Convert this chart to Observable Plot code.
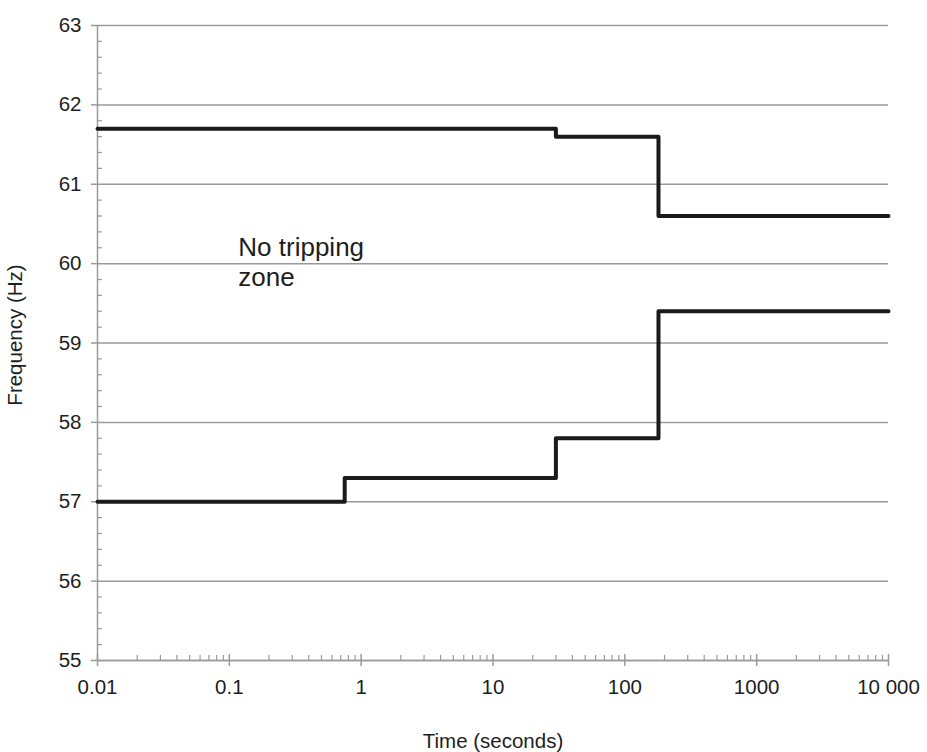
<!DOCTYPE html>
<html>
<head>
<meta charset="utf-8">
<script src="https://cdn.jsdelivr.net/npm/d3@7"></script>
<script src="https://cdn.jsdelivr.net/npm/@observablehq/plot@0.6"></script>
<style>
  html, body { margin: 0; padding: 0; background: #ffffff; }
  #chart { width: 927px; height: 752px; }
</style>
</head>
<body>
<div id="chart"></div>
<script>
// Data
const upperTime = [0.01, 30, 180, 10000];
const upperFreq = [61.7, 61.6, 60.6, 60.6];
const lowerTime = [0.01, 0.75, 30, 180, 10000];
const lowerFreq = [57.0, 57.3, 57.8, 59.4, 59.4];

const xTicks = [0.01, 0.1, 1, 10, 100, 1000, 10000];
const xTickLabels = ["0.01", "0.1", "1", "10", "100", "1000", "10 000"];
const yTicks = [55, 56, 57, 58, 59, 60, 61, 62, 63];
const xMinorMultipliers = [2, 3, 4, 5, 6, 7, 8, 9];
const yMinorStep = 0.2;

const xTitle = "Time (seconds)";
const yTitle = "Frequency (Hz)";
const annotationText = ["No tripping\nzone"];
const annotationX = [0.117];
const annotationY = [60.03];

const upper = upperTime.map((t, i) => ({t, f: upperFreq[i]}));
const lower = lowerTime.map((t, i) => ({t, f: lowerFreq[i]}));
const xMinor = [];
for (const d of xTicks.slice(0, -1)) for (const m of xMinorMultipliers) xMinor.push(d * m);
const yMinor = [];
for (let v = 55; v < 63 - 1e-9; v += yMinorStep) {
  const r = Math.round(v * 10) / 10;
  if (Math.abs(r - Math.round(r)) > 1e-6) yMinor.push(r);
}
const notes = annotationText.map((s, i) => ({s, x: annotationX[i], y: annotationY[i]}));
const xLabelOf = d => {
  const k = xTicks.findIndex(v => Math.abs(Math.log10(v) - Math.log10(d)) < 1e-6);
  return k >= 0 ? xTickLabels[k] : "";
};

const axisGray = "#9a9a9a";
const ink = "#1e1e1e";
const font = "'Liberation Sans', Arial, Helvetica, sans-serif";

const chart = Plot.plot({
  width: 927,
  height: 752,
  marginLeft: 97,
  marginRight: 39,
  marginTop: 25,
  marginBottom: 92,
  style: {fontFamily: font, background: "#ffffff", color: ink},
  x: {type: "log", domain: [0.01, 10000]},
  y: {domain: [55, 63]},
  marks: [
    Plot.gridY(yTicks, {stroke: axisGray, strokeOpacity: 1, strokeWidth: 1.5}),
    // minor ticks
    Plot.ruleX(xMinor, {x: d => d, y1: 55, y2: 55, insetBottom: 5, stroke: axisGray, strokeWidth: 1.2}),
    Plot.ruleY(yMinor, {y: d => d, x1: 0.01, x2: 0.01, insetRight: -5, stroke: axisGray, strokeWidth: 1.2}),
    // major tick upward part
    Plot.ruleX(xTicks, {x: d => d, y1: 55, y2: 55, insetBottom: 6, stroke: axisGray, strokeWidth: 1.5}),
    Plot.ruleY([55], {stroke: axisGray, strokeWidth: 1.5}),
    Plot.ruleX([0.01], {stroke: axisGray, strokeWidth: 1.5}),
    Plot.axisX(xTicks, {
      tickSize: 6, tickPadding: 13, stroke: axisGray, strokeWidth: 1.5,
      tickFormat: xLabelOf, fontSize: 20.5, fill: ink, label: null
    }),
    Plot.axisY(yTicks, {
      tickSize: 6, tickPadding: 10, stroke: axisGray, strokeWidth: 1.5,
      tickFormat: d => String(d), fontSize: 20.5, fill: ink, label: null
    }),
    Plot.text([xTitle], {frameAnchor: "bottom", dy: 73, textAnchor: "middle", lineAnchor: "top", fontSize: 20.5, fill: ink}),
    Plot.text([yTitle], {frameAnchor: "left", dx: -82, dy: -8, rotate: -90, textAnchor: "middle", lineAnchor: "middle", fontSize: 20.5, fill: ink}),
    Plot.line(upper, {x: "t", y: "f", curve: "step-after", stroke: "#1a1a1a", strokeWidth: 4}),
    Plot.line(lower, {x: "t", y: "f", curve: "step-after", stroke: "#1a1a1a", strokeWidth: 4}),
    Plot.text(notes, {x: "x", y: "y", text: "s", textAnchor: "start", lineAnchor: "middle", fontSize: 26, lineHeight: 1.15, fill: ink})
  ]
});
document.getElementById("chart").appendChild(chart);
</script>
</body>
</html>
